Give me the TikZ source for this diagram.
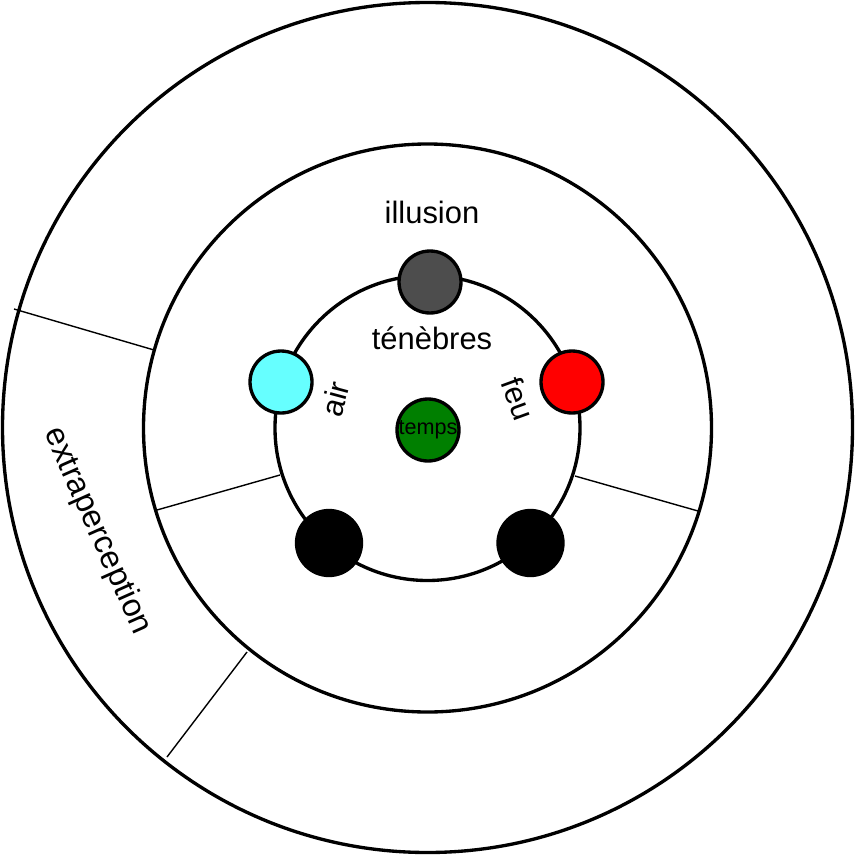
\documentclass[tikz,border=0pt]{standalone}
\usepackage{fontspec}
\setmainfont{Liberation Sans}
\usepackage{tikz}
\usetikzlibrary{positioning}
\definecolor{OrbGray}{HTML}{4D4D4D}
\definecolor{OrbCyan}{HTML}{66FFFF}
\definecolor{OrbRed}{HTML}{FF0000}
\definecolor{OrbGreen}{HTML}{007F00}

\tikzset{
  ring/.style={draw,line width=1.9pt},
  divider/.style={draw,line width=0.8pt},
  orb/.style={circle,draw,line width=1.9pt,minimum size=1.24cm,inner sep=0pt},
  lbl/.style={font=\fontsize{17.6}{20}\selectfont,inner sep=0pt}
}

\begin{document}
\begin{tikzpicture}[x=0.02cm,y=-0.02cm]
    \useasboundingbox (0,0) rectangle (855,855);
    % rings
    \draw[ring] (427.5,427.5) circle (425);
    \draw[ring] (427.5,428) circle (284);
    \draw[ring] (427.5,428) circle (152.5);
    % dividers
    \draw[divider] (14,309) -- (154,350);
    \draw[divider] (157,510) -- (280,475);
    \draw[divider] (575,476) -- (698,511);
    \draw[divider] (247,652) -- (167,757);
    % orbs
    \node[orb,fill=OrbGray] (tenebres) at (430,282) {};
    \node[orb,fill=OrbCyan] (air) at (281,382) {};
    \node[orb,fill=OrbRed] (feu) at (572,382) {};
    \node[orb,fill=OrbGreen] (temps) at (428,430) {\fontsize{12.3}{13}\selectfont temps};
    \node[orb,fill=black,minimum size=1.3cm] (left) at (329,543) {};
    \node[orb,fill=black,minimum size=1.3cm] (right) at (530.5,543) {};
    % labels
    \node[lbl] (illusionlbl) at (432,212) {illusion};
    \node[lbl] (tenebreslbl) at (432,338) {ténèbres};
    \node[lbl,rotate=75] (airlbl) at (335,399) {air};
    \node[lbl,rotate=-70] (feulbl) at (518,399) {feu};
    \node[lbl,rotate=-66,font=\fontsize{18.4}{20}\selectfont] (extralbl) at (97,531) {extraperception};
\end{tikzpicture}
\end{document}
